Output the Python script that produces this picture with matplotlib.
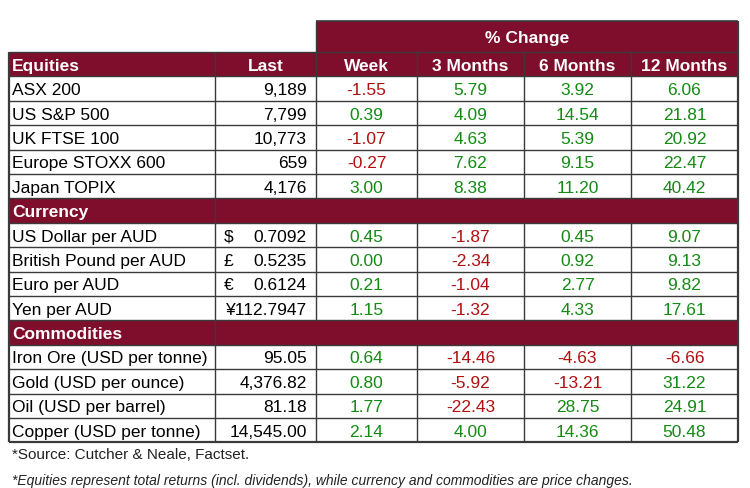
import matplotlib
matplotlib.use('Agg')
import matplotlib.pyplot as plt
from matplotlib.patches import Rectangle

plt.rcParams['font.family'] = ['Liberation Sans', 'DejaVu Sans']

# ---- data ----
periods = ['Week', '3 Months', '6 Months', '12 Months']

equity_names = ['ASX 200', 'US S&P 500', 'UK FTSE 100', 'Europe STOXX 600', 'Japan TOPIX']
equity_last = ['9,189', '7,799', '10,773', '659', '4,176']
equity_chg = [
    [-1.55, 5.79, 3.92, 6.06],
    [0.39, 4.09, 14.54, 21.81],
    [-1.07, 4.63, 5.39, 20.92],
    [-0.27, 7.62, 9.15, 22.47],
    [3.00, 8.38, 11.20, 40.42],
]

fx_names = ['US Dollar per AUD', 'British Pound per AUD', 'Euro per AUD', 'Yen per AUD']
fx_symbols = ['$', '£', '€', '¥']
fx_last = ['0.7092', '0.5235', '0.6124', '112.7947']
fx_chg = [
    [0.45, -1.87, 0.45, 9.07],
    [0.00, -2.34, 0.92, 9.13],
    [0.21, -1.04, 2.77, 9.82],
    [1.15, -1.32, 4.33, 17.61],
]

com_names = ['Iron Ore (USD per tonne)', 'Gold (USD per ounce)',
             'Oil (USD per barrel)', 'Copper (USD per tonne)']
com_last = ['95.05', '4,376.82', '81.18', '14,545.00']
com_chg = [
    [0.64, -14.46, -4.63, -6.66],
    [0.80, -5.92, -13.21, 31.22],
    [1.77, -22.43, 28.75, 24.91],
    [2.14, 4.00, 14.36, 50.48],
]

notes = ['*Source: Cutcher & Neale, Factset.',
         '*Equities represent total returns (incl. dividends), while currency and commodities are price changes.']

# ---- layout (pixels) ----
MAROON = '#7E0E2C'
GREEN = '#148A14'
RED = '#B01010'
LINE = '#3a3a3a'
col_x = [9, 215, 316, 417, 524, 631, 738]
top = 22
head_top = 53
row_h = 24.4
fs = 12.5

fig = plt.figure(figsize=(7.5, 4.89), dpi=100)
ax = fig.add_axes([0, 0, 1, 1])
ax.set_xlim(0, 750)
ax.set_ylim(489, 0)
ax.axis('off')


def hline(y, x0, x1, lw=1.0):
    ax.plot([x0, x1], [y, y], color=LINE, lw=lw, solid_capstyle='butt')


def vline(x, y0, y1, lw=1.0):
    ax.plot([x, x], [y0, y1], color=LINE, lw=lw, solid_capstyle='butt')


def chg_color(v):
    return RED if v < 0 else GREEN


# % Change banner
ax.add_patch(Rectangle((col_x[2], top), col_x[-1] - col_x[2], head_top - top,
                       facecolor=MAROON, edgecolor='none'))
ax.text((col_x[2] + col_x[-1]) / 2, (top + head_top) / 2 + 1, '% Change',
        color='white', fontsize=fs, fontweight='bold', ha='center', va='center')

y = head_top
rows = []  # (kind, payload)
rows.append(('head', ['Equities', 'Last'] + periods))
for n, l, c in zip(equity_names, equity_last, equity_chg):
    rows.append(('data', (n, None, l, c)))
rows.append(('section', 'Currency'))
for n, s, l, c in zip(fx_names, fx_symbols, fx_last, fx_chg):
    rows.append(('data', (n, s, l, c)))
rows.append(('section', 'Commodities'))
for n, l, c in zip(com_names, com_last, com_chg):
    rows.append(('data', (n, None, l, c)))

for kind, payload in rows:
    yc = y + row_h / 2 + 1
    if kind == 'head':
        ax.add_patch(Rectangle((col_x[0], y), col_x[-1] - col_x[0], row_h,
                               facecolor=MAROON, edgecolor='none'))
        ax.text(col_x[0] + 3, yc, payload[0], color='white', fontsize=fs,
                fontweight='bold', ha='left', va='center')
        for i, lab in enumerate(payload[1:], start=1):
            ax.text((col_x[i] + col_x[i + 1]) / 2, yc, lab, color='white',
                    fontsize=fs, fontweight='bold', ha='center', va='center')
        for x in col_x[1:-1]:
            vline(x, y, y + row_h)
    elif kind == 'section':
        ax.add_patch(Rectangle((col_x[0], y), col_x[-1] - col_x[0], row_h,
                               facecolor=MAROON, edgecolor='none'))
        ax.text(col_x[0] + 3, yc, payload, color='white', fontsize=fs,
                fontweight='bold', ha='left', va='center')
        vline(col_x[1], y, y + row_h)
    else:
        name, sym, last, chg = payload
        ax.text(col_x[0] + 3, yc, name, color='black', fontsize=fs,
                ha='left', va='center')
        if sym is not None:
            if sym == '¥':
                last = sym + last
            else:
                ax.text(col_x[1] + 9, yc, sym, color='black', fontsize=fs,
                        ha='left', va='center')
        ax.text(col_x[2] - 9, yc, last, color='black', fontsize=fs,
                ha='right', va='center')
        for i, v in enumerate(chg):
            ax.text((col_x[i + 2] + col_x[i + 3]) / 2, yc, f'{v:.2f}',
                    color=chg_color(v), fontsize=fs, ha='center', va='center')
        for x in col_x[1:-1]:
            vline(x, y, y + row_h)
    hline(y, col_x[0], col_x[-1])
    y += row_h

bottom = y
hline(bottom, col_x[0], col_x[-1], lw=1.6)
vline(col_x[0], head_top, bottom, lw=1.6)
vline(col_x[-1], top, bottom, lw=1.6)
hline(top, col_x[2], col_x[-1], lw=1.2)
vline(col_x[2], top, head_top)

ax.text(col_x[0] + 3, 455, notes[0], color='#222222', fontsize=11,
        ha='left', va='center')
ax.text(col_x[0] + 3, 481, notes[1], color='#222222', fontsize=10,
        style='italic', ha='left', va='center')

fig.savefig('out.png', dpi=100, facecolor='white')
